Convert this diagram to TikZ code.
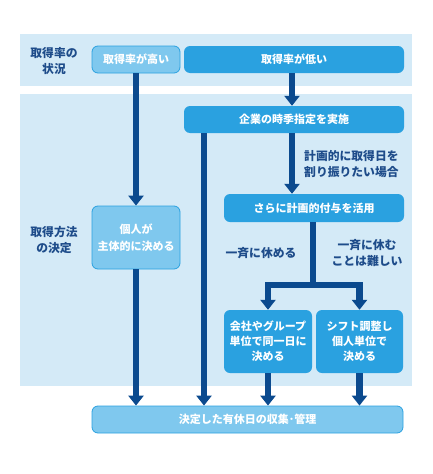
\documentclass[tikz,border=0pt]{standalone}
\usepackage{fontspec}
\setmainfont{Noto Sans CJK JP}
\usetikzlibrary{arrows.meta,positioning,calc}
\definecolor{band}{HTML}{D4EAF7}
\definecolor{navy}{HTML}{0B4A8E}
\definecolor{lbl}{HTML}{1E4C8A}
\definecolor{pale}{HTML}{7FC8EE}
\definecolor{mid}{HTML}{2AA1E0}

\begin{document}
\begin{tikzpicture}[x=1pt,y=-1pt,
  pbox/.style={fill=pale,draw=mid,line width=0.8pt,rounded corners=6pt,align=center,
               inner sep=0pt,text=white,font=\bfseries\fontsize{11}{17}\selectfont},
  mbox/.style={fill=mid,rounded corners=6pt,align=center,
               inner sep=0pt,text=white,font=\bfseries\fontsize{11}{15}\selectfont},
  lab/.style={text=lbl,align=center,inner sep=0pt,font=\bfseries\fontsize{11.8}{16}\selectfont},
  ar/.style={-{Triangle[width=15pt,length=10pt]},navy,line width=6.5pt},
  ln/.style={navy,line width=6.5pt}]
\useasboundingbox (0,0) rectangle (432,474);
% bands
\fill[band] (20,34) rectangle (412,86);
\fill[band] (20,94) rectangle (412,386);
\node[lab] (jokyo) at (54,61) {取得率の\\状況};
\node[lab] (hoho) at (54,240) {取得方法\\の決定};

\node[pbox,minimum width=88,minimum height=27] (takai) at (136,59.5) {取得率が高い};
\node[mbox,minimum width=220,minimum height=27] (hikui) at (294,59.5) {取得率が低い};
\node[mbox,minimum width=220,minimum height=27] (kigyo) at (294,119.5) {企業の時季指定を実施};
\node[mbox,minimum width=180,minimum height=28] (sarani) at (314,208) {さらに計画的付与を活用};
\node[pbox,minimum width=88,minimum height=63] (kojin) at (136,237.5) {個人が\\主体的に決める};
\node[mbox,minimum width=88,minimum height=63] (kaisha) at (268,341.5) {会社やグループ\\単位で同一日に\\決める};
\node[mbox,minimum width=87,minimum height=63] (shift) at (359.5,341.5) {シフト調整し\\個人単位で\\決める};
\node[pbox,minimum width=311,minimum height=27] (kettei) at (247.5,419.5) {決定した有休日の収集･管理};

\node[lab,align=left,anchor=west] (wariburi) at (304,164.5) {計画的に取得日を\\割り振りたい場合};
\node[lab] (ikkei) at (261,253) {一斉に休める};
\node[lab] (muzu) at (367,253) {一斉に休む\\ことは難しい};

\draw[ar] (takai) -- (kojin);
\draw[ar] (kojin) -- (kettei.north -| kojin);
\draw[ar] (hikui.south -| 292,0) -- (kigyo.north -| 292,0);
\draw[ar] (kigyo.south -| 204,0) -- (kettei.north -| 204,0);
\draw[ar] (kigyo.south -| 292,0) -- (sarani.north -| 292,0);
\coordinate (fork) at (313,285);
\draw[ln] (sarani.south -| fork) -- ([yshift=3.25pt]fork);
\draw[ar,line join=miter] ([xshift=3.25pt]fork) -| (kaisha.north);
\draw[ar,line join=miter] ([xshift=-3.25pt]fork) -| (shift.north);
\draw[ar] (kaisha) -- (kettei.north -| kaisha);
\draw[ar] (shift) -- (kettei.north -| shift);
\end{tikzpicture}
\end{document}
